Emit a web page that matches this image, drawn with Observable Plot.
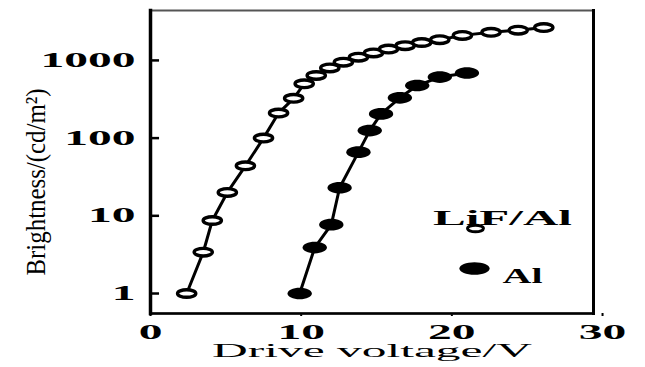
<!DOCTYPE html>
<html><head><meta charset="utf-8">
<script src="https://cdn.jsdelivr.net/npm/d3@7"></script>
<script src="https://cdn.jsdelivr.net/npm/@observablehq/plot@0.6"></script>
<style>body{margin:0;background:#fff} svg{display:block}</style>
</head><body><div id="chart"></div>
<script>
const lifVoltage = [2.4, 3.5, 4.1, 5.1, 6.3, 7.5, 8.5, 9.5, 10.2, 11.0, 11.9, 12.8, 13.8, 14.8, 15.8, 16.9, 18.0, 19.2, 20.7, 22.6, 24.4, 26.1];
const lifBright  = [1, 3.4, 8.7, 20, 44, 100, 210, 325, 500, 640, 800, 950, 1100, 1250, 1400, 1550, 1700, 1850, 2100, 2300, 2450, 2650];
const alVoltage  = [9.9, 10.9, 12.0, 12.55, 13.8, 14.55, 15.3, 16.55, 17.7, 19.2, 21.0];
const alBright   = [1, 3.9, 7.7, 23, 66, 125, 205, 330, 475, 610, 690];
const xTicks = [0, 10, 20, 30];
const yTicks = [1, 10, 100, 1000];
const seriesNames = ["LiF/Al", "Al"];
const xLabel = "Drive voltage/V";
const yLabel = "Brightness/(cd/m²)";

const lif = lifVoltage.map((v, i) => ({v, b: lifBright[i]}));
const al = alVoltage.map((v, i) => ({v, b: alBright[i]}));

function ellipse(aspect) {
  return {draw(ctx, size) {
    const r = Math.sqrt(size / Math.PI), rx = r * aspect, ry = r, k = 0.5523;
    ctx.moveTo(rx, 0);
    ctx.bezierCurveTo(rx, ry * k, rx * k, ry, 0, ry);
    ctx.bezierCurveTo(-rx * k, ry, -rx, ry * k, -rx, 0);
    ctx.bezierCurveTo(-rx, -ry * k, -rx * k, -ry, 0, -ry);
    ctx.bezierCurveTo(rx * k, -ry, rx, -ry * k, rx, 0);
    ctx.closePath();
  }};
}
const openSym = ellipse(2.4);
const fillSym = ellipse(2.1);

const plot = Plot.plot({
  width: 645, height: 367,
  marginLeft: 150, marginRight: 52, marginTop: 10, marginBottom: 54,
  style: {fontFamily: "'Liberation Serif', serif", fontSize: "20px", color: "#000", background: "#fff", overflow: "visible"},
  x: {domain: [0, 29.4]},
  y: {type: "log", domain: [0.553, 4390]},
  marks: [
    Plot.ruleY(yTicks, {x1: 0, x2: 0.6, stroke: "#000", strokeWidth: 2.5}),
    Plot.axisY({ticks: yTicks, tickSize: 0, tickPadding: 15, label: null, tickFormat: d => String(d), fontWeight: "bold"}),
    Plot.axisX({ticks: xTicks, tickSize: 3, tickPadding: 8, label: null, strokeWidth: 2, fontWeight: "bold"}),
    Plot.frame({stroke: "#555", strokeWidth: 2}),
    Plot.frame({anchor: "right", stroke: "#000", strokeWidth: 3}),
    Plot.frame({anchor: "bottom", stroke: "#000", strokeWidth: 2.5}),
    Plot.frame({anchor: "left", stroke: "#000", strokeWidth: 3.5}),
    Plot.line(lif, {x: "v", y: "b", stroke: "#000", strokeWidth: 3}),
    Plot.line(al, {x: "v", y: "b", stroke: "#000", strokeWidth: 3}),
    Plot.dot(lif, {x: "v", y: "b", r: 3.8, symbol: openSym, fill: "#fff", stroke: "#000", strokeWidth: 3.4}),
    Plot.dot(al, {x: "v", y: "b", r: 5.8, symbol: fillSym, fill: "#000", stroke: "none"}),
    Plot.text([xLabel], {frameAnchor: "bottom", textAnchor: "middle", dy: 43, fontSize: 18}),
    Plot.text([yLabel], {frameAnchor: "left", textAnchor: "middle", dx: -114, dy: 20, rotate: -90, fontSize: 28}),
    Plot.text([seriesNames[0]], {frameAnchor: "top-left", textAnchor: "middle", dx: 352, dy: 200, fontWeight: "bold", fontSize: 20}),
    Plot.dot([seriesNames[0]], {frameAnchor: "top-left", dx: 325, dy: 218, r: 3.3, symbol: openSym, fill: "#fff", stroke: "#000", strokeWidth: 3}),
    Plot.dot([seriesNames[1]], {frameAnchor: "top-left", dx: 324, dy: 258, r: 6.3, symbol: ellipse(2.4), fill: "#000", stroke: "none"}),
    Plot.text([seriesNames[1]], {frameAnchor: "top-left", dx: 352, dy: 258, textAnchor: "start", fontWeight: "bold", fontSize: 20})
  ]
});
document.getElementById("chart").appendChild(plot);

// emulate the horizontally stretched lettering of the original
const texts = Array.from(plot.querySelectorAll("text"));
let k = 2.2;
texts.forEach(t => { if (t.textContent === "1000") k = 95 / t.getComputedTextLength(); });
const targets = {[xLabel]: 320, [yLabel]: 187, [seriesNames[0]]: 139, [seriesNames[1]]: 40};
texts.forEach(t => {
  const s = t.textContent;
  const anchor = getComputedStyle(t).textAnchor;
  let L = targets[s];
  if (L === undefined) L = t.getComputedTextLength() * k;
  const ax = +(t.getAttribute("x") || 0);
  const shift = anchor === "middle" ? L / 2 : anchor === "end" ? L : 0;
  t.setAttribute("text-anchor", "start");
  t.style.textAnchor = "start";
  t.setAttribute("x", ax - shift);
  t.setAttribute("textLength", L);
  t.setAttribute("lengthAdjust", "spacingAndGlyphs");
});
</script>
</body></html>
